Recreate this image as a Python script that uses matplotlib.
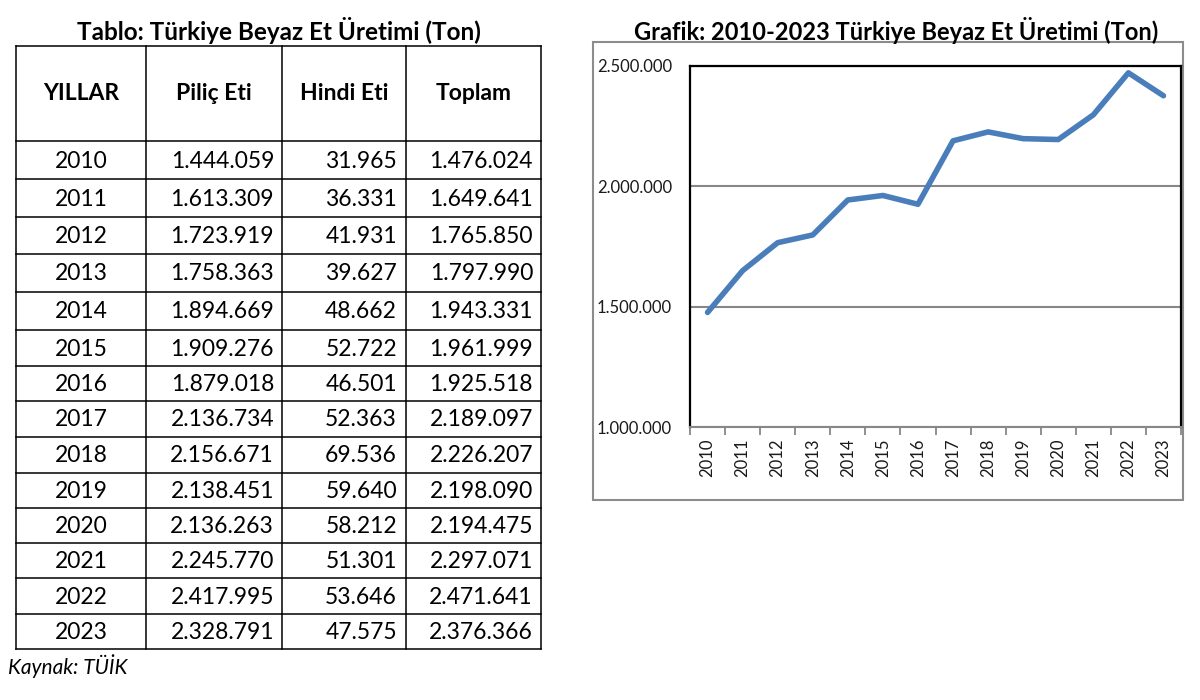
import matplotlib
matplotlib.use("Agg")
import matplotlib.pyplot as plt
from matplotlib.patches import Rectangle

plt.rcParams['font.family'] = ['Lato', 'DejaVu Sans']

# data (TÜİK)
years = [2010, 2011, 2012, 2013, 2014, 2015, 2016, 2017, 2018, 2019, 2020, 2021, 2022, 2023]
pilic = [1444059, 1613309, 1723919, 1758363, 1894669, 1909276, 1879018,
         2136734, 2156671, 2138451, 2136263, 2245770, 2417995, 2328791]
hindi = [31965, 36331, 41931, 39627, 48662, 52722, 46501,
         52363, 69536, 59640, 58212, 51301, 53646, 47575]
toplam = [1476024, 1649641, 1765850, 1797990, 1943331, 1961999, 1925518,
          2189097, 2226207, 2198090, 2194475, 2297071, 2471641, 2376366]
headers = ["YILLAR", "Piliç Eti", "Hindi Eti", "Toplam"]
y_ticks = [1000000, 1500000, 2000000, 2500000]


def fmt(v):
    return "{:,}".format(v).replace(",", ".")


W, H = 1200, 700
fig = plt.figure(figsize=(12, 7), dpi=100)

# ---- table (drawn in pixel coords on a full-figure axes)
tab = fig.add_axes([0, 0, 1, 1])
tab.set_xlim(0, W)
tab.set_ylim(H, 0)
tab.axis("off")

col_x = [16, 146, 282, 406, 541]
row_y = [46, 141, 179, 217, 254, 292, 330, 366, 401, 437, 473, 508, 543, 578, 614, 649]

for x in col_x:
    tab.plot([x, x], [row_y[0], row_y[-1]], color="black", lw=1.1)
for y in row_y:
    tab.plot([col_x[0], col_x[-1]], [y, y], color="black", lw=1.1)

tab.text(279, 31, "Tablo: Türkiye Beyaz Et Üretimi (Ton)", ha="center", va="center",
         fontsize=17.5, fontweight="bold")

hy = (row_y[0] + row_y[1]) / 2
for i, h in enumerate(headers):
    tab.text((col_x[i] + col_x[i + 1]) / 2, hy, h, ha="center", va="center",
             fontsize=16.5, fontweight="bold")

for r, yr in enumerate(years):
    cy = (row_y[r + 1] + row_y[r + 2]) / 2 + 1
    tab.text((col_x[0] + col_x[1]) / 2, cy, str(yr), ha="center", va="center", fontsize=16.5)
    tab.text(col_x[2] - 8, cy, fmt(pilic[r]), ha="right", va="center", fontsize=16.5)
    tab.text(col_x[3] - 9, cy, fmt(hindi[r]), ha="right", va="center", fontsize=16.5)
    tab.text(col_x[4] - 8, cy, fmt(toplam[r]), ha="right", va="center", fontsize=16.5)

tab.text(8, 666, "Kaynak: TÜİK", ha="left", va="center", fontsize=15, fontstyle="italic")

# ---- chart frame + title
tab.add_patch(Rectangle((593, 42), 590, 458, fill=False, edgecolor="#8c8c8c", lw=1.5))
tab.text(896, 30, "Grafik: 2010-2023 Türkiye Beyaz Et Üretimi (Ton)", ha="center",
         va="center", fontsize=17, fontweight="bold")

# ---- line chart
ax = fig.add_axes([690 / W, 1 - 427 / H, 491 / W, 361 / H])
xs = list(range(len(years)))
ax.plot(xs, toplam, color="#4a7ebb", lw=4, solid_capstyle="round", solid_joinstyle="round",
        zorder=3)
ax.set_xlim(-0.5, len(years) - 0.5)
ax.set_ylim(y_ticks[0], y_ticks[-1])
ax.set_yticks(y_ticks)
ax.set_yticklabels([fmt(v) for v in y_ticks], fontsize=12, color="#1a1a1a")
ax.yaxis.grid(True, color="#878787", lw=1.5)
ax.set_axisbelow(True)
ax.tick_params(axis="y", length=0, pad=13)

ax.set_xticks([i - 0.5 for i in range(len(years) + 1)])
ax.set_xticklabels([])
ax.set_xticks(xs, minor=True)
ax.set_xticklabels([str(y) for y in years], minor=True, rotation=90, fontsize=12,
                   color="#1a1a1a")
ax.tick_params(axis="x", which="major", length=6, color="#878787", width=1.3, direction="out")
ax.tick_params(axis="x", which="minor", length=0, pad=8)

for s in ["left", "top", "right"]:
    ax.spines[s].set_color("black")
    ax.spines[s].set_linewidth(1.6)
ax.spines["bottom"].set_color("#878787")
ax.spines["bottom"].set_linewidth(1.5)

fig.savefig("out.png", dpi=100)
